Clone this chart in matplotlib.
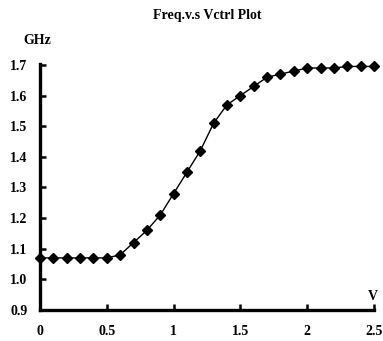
import matplotlib.pyplot as plt

vctrl = [0.0, 0.1, 0.2, 0.3, 0.4, 0.5, 0.6, 0.7, 0.8, 0.9, 1.0, 1.1, 1.2,
         1.3, 1.4, 1.5, 1.6, 1.7, 1.8, 1.9, 2.0, 2.1, 2.2, 2.3, 2.4, 2.5]
freq = [1.07, 1.07, 1.07, 1.07, 1.07, 1.07, 1.08, 1.12, 1.16, 1.21, 1.28, 1.35, 1.42,
        1.51, 1.57, 1.60, 1.63, 1.66, 1.67, 1.68, 1.69, 1.69, 1.69, 1.695, 1.695, 1.695]
xticks = [0, 0.5, 1, 1.5, 2, 2.5]
xlabels = ["0", "0.5", "1", "1.5", "2", "2.5"]
yticks = [0.9, 1.0, 1.1, 1.2, 1.3, 1.4, 1.5, 1.6, 1.7]
ylabels = ["0.9", "1.0", "1.1", "1.2", "1.3", "1.4", "1.5", "1.6", "1.7"]

plt.rcParams["font.family"] = ["Liberation Serif", "DejaVu Serif"]
plt.rcParams["font.weight"] = "bold"

fig = plt.figure(figsize=(3.83, 3.41), dpi=100)
ax = fig.add_axes([40 / 383, 1 - 310 / 341, 334 / 383, 246 / 341])

ax.plot(vctrl, freq, color="black", lw=1.0, marker="D", ms=5,
        markerfacecolor="black", markeredgecolor="black", clip_on=False)

ax.set_xlim(0, 2.5)
ax.set_ylim(0.9, 1.703)
ax.set_xticks(xticks)
ax.set_xticklabels(xlabels, fontsize=10, fontweight="bold")
ax.set_yticks(yticks)
ax.set_yticklabels(ylabels, fontsize=10, fontweight="bold")
ax.tick_params(axis="both", direction="in", length=4, width=1.8, colors="black")
ax.tick_params(axis="x", pad=11)
ax.tick_params(axis="y", pad=9)

for s in ["top", "right"]:
    ax.spines[s].set_visible(False)
for s in ["left", "bottom"]:
    ax.spines[s].set_linewidth(2.4)
    ax.spines[s].set_color("black")

fig.text(207 / 383, 1 - 15 / 341, "Freq.v.s Vctrl Plot", ha="center", va="center",
         fontsize=10, fontweight="bold")
fig.text(37 / 383, 1 - 40 / 341, "GHz", ha="center", va="center",
         fontsize=10, fontweight="bold")
fig.text(373 / 383, 1 - 296 / 341, "V", ha="center", va="center",
         fontsize=10, fontweight="bold")

fig.savefig("out.png", dpi=100)
